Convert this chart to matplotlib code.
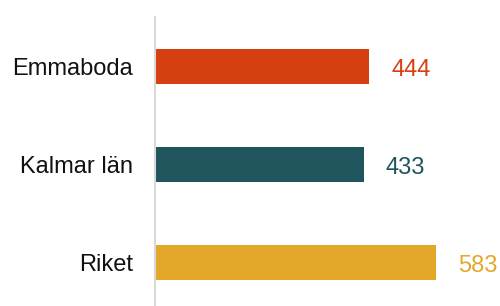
import matplotlib
matplotlib.use("Agg")
import matplotlib.pyplot as plt

categories = ["Emmaboda", "Kalmar län", "Riket"]
values = [444, 433, 583]
colors = ["#D63F10", "#21555E", "#E3A829"]

plt.rcParams['font.family'] = ['Liberation Sans', 'DejaVu Sans']

fig = plt.figure(figsize=(5.0, 3.06), dpi=100)
ax = fig.add_axes([0.31, 0.0, 0.675, (306 - 17) / 306])

y = list(range(len(categories)))
ax.barh(y, values, height=0.357, color=colors)
ax.set_xlim(0, 700)
ax.set_ylim(2.444, -0.505)

ax.set_yticks(y)
ax.set_yticklabels(categories, fontsize=17, color="#111111")
ax.tick_params(axis='y', length=0, pad=15.8)
ax.set_xticks([])

for s in ["top", "right", "bottom"]:
    ax.spines[s].set_visible(False)
ax.spines["left"].set_color("#d9d9d9")
ax.spines["left"].set_linewidth(1.5)

for yi, v, c in zip(y, values, colors):
    ax.annotate(str(v), xy=(v, yi), xytext=(15.8, -1), textcoords="offset points",
                ha="left", va="center_baseline", fontsize=17, color=c)

fig.savefig("out.png", dpi=100)
